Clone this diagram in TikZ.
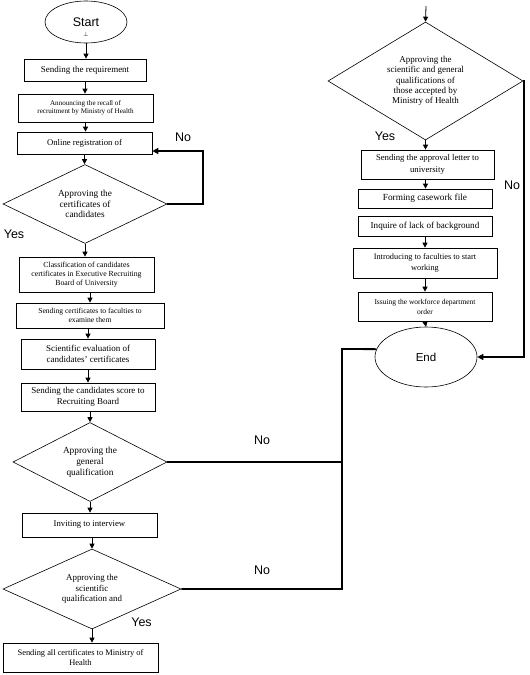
\documentclass[tikz,border=0pt]{standalone}
\usepackage{fontspec}
\setmainfont{Liberation Serif}
\newfontfamily\labfont{Liberation Sans}
\usetikzlibrary{shapes.geometric,arrows.meta}
\newcommand{\fs}[2]{\fontsize{#1}{#2}\selectfont}
\begin{document}
\begin{tikzpicture}[x=1pt,y=-1pt,
  box/.style={draw,line width=0.7pt,inner sep=0pt,align=center,font=\fs{9}{10.7}},
  dia/.style={draw,line width=0.6pt,diamond,inner sep=0pt,align=center,font=\fs{9.3}{10.8}},
  ell/.style={draw,line width=0.6pt,ellipse,inner sep=0pt,font=\labfont\fs{12.5}{14}},
  lab/.style={font=\labfont\fs{12.5}{14}},
  arr/.style={line width=0.8pt,-{Triangle[length=5pt,width=5pt]}},
  thk/.style={line width=1.8pt},
  thkarr/.style={line width=1.8pt,-{Triangle[length=6pt,width=6pt]}}]
\useasboundingbox (0,0) rectangle (530,675);
% left column
\node[ell,minimum width=82pt,minimum height=42pt] (start) at (86,22) {Start};
\node[font=\fs{6}{6},inner sep=0pt] (perp) at (86,34) {$\perp$};
\node[box,minimum width=122pt,minimum height=22pt] (b1) at (85,70) {Sending the requirement};
\node[box,minimum width=135pt,minimum height=28pt,font=\fs{7.1}{8.4}] (b2) at (85.5,108) {Announcing the recall of\\recruitment by Ministry of Health};
\node[box,minimum width=135pt,minimum height=22pt,font=\fs{8.7}{10}] (b3) at (84.5,143) {Online registration of};
\node[dia,minimum width=164pt,minimum height=79pt,shape aspect=2.08] (d1) at (85,204) {Approving the\\certificates of\\candidates};
\node[box,minimum width=135pt,minimum height=35pt,font=\fs{7.8}{9.2}] (b4) at (86.5,274.5) {Classification of candidates\\certificates in Executive Recruiting\\Board of University};
\node[box,minimum width=148pt,minimum height=25pt,font=\fs{7.6}{9}] (b5) at (90,315.5) {Sending certificates to faculties to\\examine them};
\node[box,minimum width=134pt,minimum height=30pt,font=\fs{9}{11.5}] (b6) at (88,354) {Scientific evaluation of\\candidates' certificates};
\node[box,minimum width=134pt,minimum height=28pt] (b7) at (88,397) {Sending the candidates score to\\Recruiting Board};
\node[dia,minimum width=154pt,minimum height=79pt,shape aspect=1.95] (d2) at (90,462) {Approving the\\general\\qualification};
\node[box,minimum width=135pt,minimum height=24pt,font=\fs{8.7}{10}] (b8) at (89.5,525) {Inviting to interview};
\node[dia,minimum width=178pt,minimum height=80pt,shape aspect=2.2,font=\fs{8.9}{10.8}] (d3) at (92,589) {Approving the\\scientific\\qualification and};
\node[box,minimum width=155pt,minimum height=29pt,font=\fs{8.4}{10.7}] (b9) at (80.5,657.5) {Sending all certificates to Ministry of\\Health};
% right column
\coordinate (top) at (426,6);
\node[dia,minimum width=195pt,minimum height=118pt,shape aspect=1.65,font=\fs{9}{10.4}] (d4) at (425.5,81) {Approving the\\scientific and general\\qualifications of\\those accepted by\\Ministry of Health};
\node[box,minimum width=133pt,minimum height=29pt,font=\fs{8.7}{12.5}] (b10) at (427.5,164.5) {Sending the approval letter to\\university};
\node[box,minimum width=134pt,minimum height=19pt,font=\fs{9.3}{10}] (b11) at (425,198.5) {Forming casework file};
\node[box,minimum width=134pt,minimum height=20pt,font=\fs{9.1}{10}] (b12) at (425,226) {Inquire of lack of background};
\node[box,minimum width=144pt,minimum height=30pt,font=\fs{8.3}{11.5}] (b13) at (425,263) {Introducing to faculties to start\\working};
\node[box,minimum width=134pt,minimum height=29pt,font=\fs{7.5}{10}] (b14) at (425,306.5) {Issuing the workforce department\\order};
\node[ell,minimum width=102pt,minimum height=60pt,font=\labfont\fs{11.5}{13}] (end) at (426,357) {End};
% labels
\node[lab] (no1) at (183,137) {No};
\node[lab] (yes1) at (14,234) {Yes};
\node[lab] (no2) at (262,440) {No};
\node[lab] (no3) at (262,570) {No};
\node[lab] (yes3) at (141.5,622) {Yes};
\node[lab] (yes4) at (385,136) {Yes};
\node[lab] (no4) at (512,185) {No};
% flow arrows
\draw[arr] (start.south) -- (start.south |- b1.north);
\draw[arr] (b1.south) -- (b1.south |- b2.north);
\draw[arr] (b2.south) -- (b2.south |- b3.north);
\draw[arr] (b3.south) -- (b3.south |- d1.north);
\draw[arr] (d1.south) -- (d1.south |- b4.north);
\draw[arr] (b5.north |- b4.south) -- (b5.north);
\draw[arr] (b6.north |- b5.south) -- (b6.north);
\draw[arr] (b7.north |- b6.south) -- (b7.north);
\draw[arr] (d2.north |- b7.south) -- (d2.north);
\draw[arr] (d2.south) -- (d2.south |- b8.north);
\draw[arr] (d3.north |- b8.south) -- (d3.north);
\draw[arr] (d3.south) -- (d3.south |- b9.north);
\draw[arr] (top) -- (d4.north);
\draw[arr] (d4.south) -- (d4.south |- b10.north);
\draw[arr] (d4.south |- b10.south) -- (d4.south |- b11.north);
\draw[arr] (b12.south) -- (b12.south |- b13.north);
\draw[arr] (b13.south) -- (b13.south |- b14.north);
\draw[arr] (b14.south) -- (end.north);
% No loops
\coordinate (loop1) at (203,151);
\draw[thkarr] (d1.east) -| (loop1) -- (loop1 -| b3.east);
\coordinate (jtop) at (342,349);
\draw[thk] (d2.east) -- (d2.east -| jtop);
\draw[thk] (d3.east) -| (jtop) -- (end.171);
\coordinate (jr) at (524,200);
\draw[line width=1.4pt,-{Triangle[length=6pt,width=6pt]}] (d4.east) -| (jr) |- (end.east);
\end{tikzpicture}
\end{document}
